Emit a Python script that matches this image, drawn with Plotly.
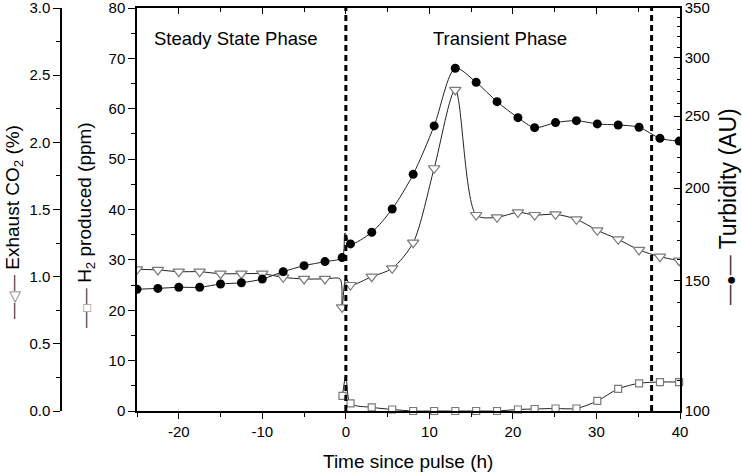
import math
import plotly.graph_objects as go

# ---------------- data ----------------
# Turbidity (AU), filled circles, right log axis
turb_time = [-25, -22.5, -20, -17.5, -15, -12.5, -10, -7.5, -5, -2.5, -0.45, -0.1, 0.56, 3.1,
             5.55, 8.06, 10.57, 13.1, 15.6, 18.1, 20.6, 22.6, 25.1, 27.6, 30.1, 32.6, 35.1, 37.6, 39.9]
turbidity = [146.0, 146.4, 146.9, 146.9, 148.4, 149.0, 150.7, 154.2, 157.1, 159.1, 161.1, 174.0, 168.1, 174.3,
             187.4, 208.7, 242.6, 290.2, 277.8, 261.6, 248.9, 241.3, 245.1, 246.6, 244.1, 243.3, 241.6, 233.4, 231.4]
turb_line_only = [-0.1]

# Exhaust CO2 (%), open down-triangles, far-left axis
co2_time = [-25, -22.5, -20, -17.5, -15, -12.5, -10, -7.5, -5, -2.5, -0.7, -0.45, 0.0, 0.56, 3.1,
            5.55, 8.06, 10.57, 13.1, 15.6, 18.1, 20.6, 22.6, 25.1, 27.6, 30.1, 32.6, 35.1, 37.6, 39.9]
co2 = [1.055, 1.05, 1.037, 1.037, 1.022, 1.022, 1.022, 0.995, 0.983, 0.983, 0.983, 0.772, 0.99, 0.938, 1.0,
       1.062, 1.253, 1.807, 2.39, 1.459, 1.442, 1.479, 1.459, 1.464, 1.427, 1.345, 1.278, 1.199, 1.149, 1.119]
co2_line_only = [-0.7, 0.0]

# H2 produced (ppm), open squares, left axis
h2_time = [-0.4, 0.0, 0.56, 3.1, 5.55, 8.06, 10.57, 13.1, 15.6, 18.1, 20.6, 22.6, 25.1, 27.6,
           30.1, 32.6, 35.1, 37.6, 39.9]
h2 = [3.0, 7.0, 1.5, 0.73, 0.3, 0.0, 0.0, 0.0, 0.0, 0.0, 0.3, 0.4, 0.5, 0.5,
      2.0, 4.4, 5.5, 5.75, 5.75]
h2_line_only = [0.0]

phase_boundaries = [0, 36.6]
phase_labels = ["Steady State Phase", "Transient Phase"]
phase_label_x = [-13.2, 18.5]

x_ticks = [-20, -10, 0, 10, 20, 30, 40]
turb_ticks = [100, 150, 200, 250, 300, 350]
turb_minor = [v for v in range(110, 350, 10) if v not in turb_ticks]

# ---------------- layout geometry ----------------
W, H = 742, 473
PL, PR, PT, PB = 137, 680, 8, 411
FONT = "Arial, 'Liberation Sans', sans-serif"
TICKFONT = dict(family=FONT, size=15, color="black")
TITLEFONT = dict(family=FONT, size=19, color="black")
RTITLEFONT = dict(family=FONT, size=23, color="black")
PHASEFONT = dict(family=FONT, size=18.5, color="black")


def px_x(v):
    return v / W


def px_y(v):
    return 1 - v / H


def marker_subset(xs, ys, skip):
    pts = [(a, b) for a, b in zip(xs, ys) if a not in skip]
    return [p[0] for p in pts], [p[1] for p in pts]


fig = go.Figure()

LINE = dict(color="#222222", width=1, shape="spline", smoothing=0.8)

# H2
fig.add_trace(go.Scatter(x=h2_time, y=h2, mode="lines", line=LINE, xaxis="x", yaxis="y",
                         showlegend=False, hoverinfo="skip"))
hx, hy = marker_subset(h2_time, h2, h2_line_only)
fig.add_trace(go.Scatter(x=hx, y=hy, mode="markers", xaxis="x", yaxis="y", cliponaxis=False,
                         marker=dict(symbol="square", size=7, color="white",
                                     line=dict(color="#7a7a7a", width=1.2)),
                         showlegend=False))

# CO2
fig.add_trace(go.Scatter(x=co2_time, y=co2, mode="lines", line=LINE, xaxis="x", yaxis="y2",
                         showlegend=False, hoverinfo="skip"))
cx, cy = marker_subset(co2_time, co2, co2_line_only)
fig.add_trace(go.Scatter(x=cx, y=cy, mode="markers", xaxis="x", yaxis="y2",
                         marker=dict(symbol="triangle-down", size=10, color="white",
                                     line=dict(color="#7a7a7a", width=1.2)),
                         showlegend=False))

# Turbidity (drawn on the top x axis, which shares the bottom axis range)
fig.add_trace(go.Scatter(x=turb_time, y=turbidity, mode="lines", line=LINE, xaxis="x2", yaxis="y3",
                         showlegend=False, hoverinfo="skip"))
tx, ty = marker_subset(turb_time, turbidity, turb_line_only)
fig.add_trace(go.Scatter(x=tx, y=ty, mode="markers", xaxis="x2", yaxis="y3",
                         marker=dict(symbol="circle", size=9, color="black",
                                     line=dict(color="black", width=0)),
                         showlegend=False))

xdom = [PL / W, PR / W]
ydom = [1 - PB / H, 1 - PT / H]

axis_common = dict(showgrid=False, zeroline=False, showline=True, linecolor="black",
                   linewidth=1.5, tickcolor="black", tickwidth=1.3, tickfont=TICKFONT,
                   ticklabeloverflow="allow", automargin=False)

fig.update_layout(
    width=W, height=H,
    margin=dict(l=0, r=0, t=0, b=0, pad=0, autoexpand=False),
    paper_bgcolor="white", plot_bgcolor="white",
    showlegend=False,
    xaxis=dict(domain=xdom, range=[-25, 40], tickvals=x_ticks, ticktext=[str(v) for v in x_ticks],
               ticks="outside", ticklen=6,
               minor=dict(dtick=5, tick0=0, ticks="outside", ticklen=4, tickcolor="black", tickwidth=1.3),
               anchor="y", **axis_common),
    xaxis2=dict(domain=xdom, range=[-25, 40], matches="x", tickvals=x_ticks, ticks="inside", ticklen=6,
                minor=dict(dtick=5, tick0=0, ticks="inside", ticklen=4, tickcolor="black", tickwidth=1.3),
                showticklabels=False, side="top", overlaying="x", anchor="y3", **axis_common),
    yaxis=dict(domain=ydom, range=[0, 80], dtick=10, tick0=0, ticks="outside", ticklen=7,
               minor=dict(dtick=5, tick0=0, ticks="outside", ticklen=4, tickcolor="black", tickwidth=1.3),
               anchor="x", **axis_common),
    yaxis2=dict(domain=ydom, range=[0, 3], dtick=0.5, tick0=0, tickformat=".1f",
                ticks="outside", ticklen=7,
                minor=dict(dtick=0.25, tick0=0, ticks="outside", ticklen=4, tickcolor="black", tickwidth=1.3),
                overlaying="y", anchor="free", position=61 / W, side="left", **axis_common),
    yaxis3=dict(domain=ydom, type="log", range=[2, math.log10(350)], tickvals=turb_ticks,
                ticktext=[str(v) for v in turb_ticks], ticks="inside", ticklen=6,
                minor=dict(tickvals=turb_minor, ticks="inside", ticklen=3, tickcolor="black", tickwidth=1.2),
                overlaying="y", anchor="x", side="right", **axis_common),
)

# phase boundaries
for xb in phase_boundaries:
    fig.add_shape(type="line", xref="x", yref="paper", x0=xb, x1=xb, y0=ydom[0], y1=ydom[1],
                  line=dict(color="black", width=3, dash="6px,4px"), layer="above")

# phase labels
for lab, lx in zip(phase_labels, phase_label_x):
    fig.add_annotation(text=lab, x=lx, xref="x", y=px_y(38), yref="paper", showarrow=False,
                       xanchor="center", yanchor="middle", font=PHASEFONT)

# axis titles
fig.add_annotation(text="Time since pulse (h)", x=px_x(408), y=px_y(461), xref="paper", yref="paper",
                   showarrow=False, xanchor="center", yanchor="middle", font=TITLEFONT)


def sym(glyph, color, size, dash_size=15):
    return (f"<span style='font-size:{dash_size}px;color:#333'>\u2014</span>"
            f"<span style='font-size:{size}px;color:{color}'>{glyph}</span>"
            f"<span style='font-size:{dash_size}px;color:#333'>\u2014</span>")


fig.add_annotation(text=sym("\u25c1", "#7a7a7a", 15, 16) + " Exhaust CO<sub>2</sub> (%)",
                   x=px_x(14), y=px_y(222), xref="paper", yref="paper", textangle=-90,
                   showarrow=False, xanchor="center", yanchor="middle", font=TITLEFONT)
fig.add_annotation(text=sym("\u25a1", "#7a7a7a", 13, 16) + " H<sub>2</sub> produced (ppm)",
                   x=px_x(86), y=px_y(225), xref="paper", yref="paper", textangle=-90,
                   showarrow=False, xanchor="center", yanchor="middle", font=TITLEFONT)
fig.add_annotation(text=sym("\u25cf", "black", 16, 20) + " Turbidity (AU)",
                   x=px_x(728), y=px_y(207), xref="paper", yref="paper", textangle=-90,
                   showarrow=False, xanchor="center", yanchor="middle", font=RTITLEFONT)

fig.write_html("out.html",
               config={"displayModeBar": False},
               post_script="document.body.style.margin='0';document.body.style.overflow='hidden';")
